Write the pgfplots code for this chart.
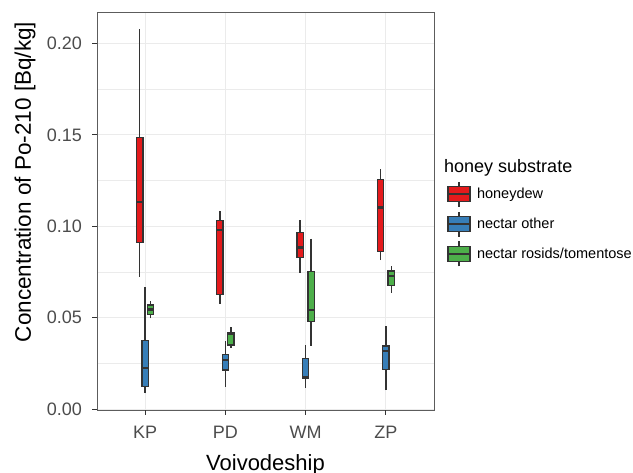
\documentclass[border=0pt]{standalone}
\usepackage{fontspec}
\setmainfont{Liberation Sans}
\usepackage{pgfplots}
\pgfplotsset{compat=1.18}
\usepgfplotslibrary{statistics}

\definecolor{hdcol}{HTML}{E41A1C}
\definecolor{nocol}{HTML}{377EB8}
\definecolor{nrcol}{HTML}{4DAF4A}
\definecolor{edge}{HTML}{333333}
\definecolor{gridc}{HTML}{EBEBEB}

\pgfplotsset{
  boxplot/draw direction=y,
  boxplot/box extend=0.078,
  boxplot/whisker extend=0,
  boxplot/every median/.style={line width=2.4pt},
  bx/.style={draw=edge, fill=#1, mark=none, line width=1.4pt},
  boxleg/.style={legend image code/.code={
      \draw[edge, line width=1.4pt] (11pt,-12.5pt) -- (11pt,12.5pt);
      \draw[edge, fill=#1, line width=1.3pt] (0pt,-7.5pt) rectangle (22pt,7.5pt);
      \draw[edge, line width=2pt] (0pt,0pt) -- (22pt,0pt);
  }},
}

\begin{document}
\begin{tikzpicture}
\begin{axis}[
    boxplot/draw direction=y,
    scale only axis, width=337pt, height=398pt,
    xmin=0.4, xmax=4.6, ymin=-0.0005, ymax=0.2172,
    xtick={1,2,3,4}, xticklabels={KP,PD,WM,ZP},
    ytick={0,0.05,0.1,0.15,0.2},
    minor ytick={0.025,0.075,0.125,0.175},
    yticklabel style={xshift=-7pt, /pgf/number format/.cd, fixed, fixed zerofill, precision=2},
    /pgf/number format/assume math mode=true,
    ticklabel style={font=\fontsize{18}{20}\selectfont, text=black!70},
    xticklabel style={yshift=-8pt},
    xtick pos=left, ytick pos=left,
    grid=both,
    major grid style={gridc, line width=1pt},
    minor grid style={gridc, line width=0.5pt},
    tick align=outside, major tick length=4.5pt, minor tick length=0pt,
    tick style={edge, line width=0.8pt},
    axis line style={edge!80, line width=0.8pt},
    xlabel={Voivodeship},
    ylabel={Concentration of Po-210 [Bq/kg]},
    every axis x label/.style={at={(rel axis cs:0.5,-0.153)}, anchor=base,
      font=\fontsize{22}{24}\selectfont},
    every axis y label/.style={at={(rel axis cs:-0.2136,0.573)}, rotate=90, anchor=center,
      font=\fontsize{22.5}{24}\selectfont},
    legend style={at={(rel axis cs:1.0386,0.5754)}, anchor=north west, draw=none, fill=none,
      inner sep=0pt, outer sep=0pt, row sep=3.5pt, column sep=4pt,
      font=\fontsize{14.5}{16}\selectfont},
    legend cell align=left,
    clip=false,
]
\addlegendimage{boxleg=hdcol}\addlegendentry{honeydew}
\addlegendimage{boxleg=nocol}\addlegendentry{nectar other}
\addlegendimage{boxleg=nrcol}\addlegendentry{nectar rosids/tomentose}

% KP
\addplot[bx=hdcol, boxplot prepared={draw position=0.932, lower whisker=0.0724, lower quartile=0.0912, median=0.1133, upper quartile=0.1485, upper whisker=0.2078}] coordinates {};
\addplot[bx=nocol, boxplot prepared={draw position=1.0, lower whisker=0.0086, lower quartile=0.0122, median=0.0226, upper quartile=0.0376, upper whisker=0.0666}] coordinates {};
\addplot[bx=nrcol, boxplot prepared={draw position=1.068, lower whisker=0.0496, lower quartile=0.0518, median=0.0545, upper quartile=0.0569, upper whisker=0.0591}] coordinates {};
% PD
\addplot[bx=hdcol, boxplot prepared={draw position=1.932, lower whisker=0.0575, lower quartile=0.0626, median=0.0979, upper quartile=0.1030, upper whisker=0.1085}] coordinates {};
\addplot[bx=nocol, boxplot prepared={draw position=2.0, lower whisker=0.0122, lower quartile=0.0213, median=0.0268, upper quartile=0.0299, upper whisker=0.0372}] coordinates {};
\addplot[bx=nrcol, boxplot prepared={draw position=2.068, lower whisker=0.0335, lower quartile=0.0350, median=0.0412, upper quartile=0.0418, upper whisker=0.0450}] coordinates {};
% WM
\addplot[bx=hdcol, boxplot prepared={draw position=2.932, lower whisker=0.0746, lower quartile=0.0830, median=0.0883, upper quartile=0.0967, upper whisker=0.1034}] coordinates {};
\addplot[bx=nocol, boxplot prepared={draw position=3.0, lower whisker=0.0117, lower quartile=0.0168, median=0.0175, upper quartile=0.0277, upper whisker=0.0350}] coordinates {};
\addplot[bx=nrcol, boxplot prepared={draw position=3.068, lower whisker=0.0346, lower quartile=0.0478, median=0.0542, upper quartile=0.0751, upper whisker=0.0932}] coordinates {};
% ZP
\addplot[bx=hdcol, boxplot prepared={draw position=3.932, lower whisker=0.0815, lower quartile=0.0861, median=0.1102, upper quartile=0.1257, upper whisker=0.1313}] coordinates {};
\addplot[bx=nocol, boxplot prepared={draw position=4.0, lower whisker=0.0104, lower quartile=0.0217, median=0.0317, upper quartile=0.0346, upper whisker=0.0454}] coordinates {};
\addplot[bx=nrcol, boxplot prepared={draw position=4.068, lower whisker=0.0636, lower quartile=0.0677, median=0.0728, upper quartile=0.0755, upper whisker=0.0782}] coordinates {};

% x tick marks (bottom)
\pgfplotsinvokeforeach{1,2,3,4}{
  \draw[edge, line width=0.8pt] (axis cs:#1,-0.0005) -- ++(0pt,-4.5pt);
}
\node[anchor=west, inner sep=0pt, font=\fontsize{18}{20}\selectfont] at (rel axis cs:1.0297,0.6081) {honey substrate};
\coordinate (sw) at (rel axis cs:0,0);
\coordinate (ne) at (rel axis cs:1,1);
\end{axis}
\pgfresetboundingbox
\path ([shift={(-97pt,-62pt)}]sw) rectangle ([shift={(199pt,12pt)}]ne);
\end{tikzpicture}
\end{document}
